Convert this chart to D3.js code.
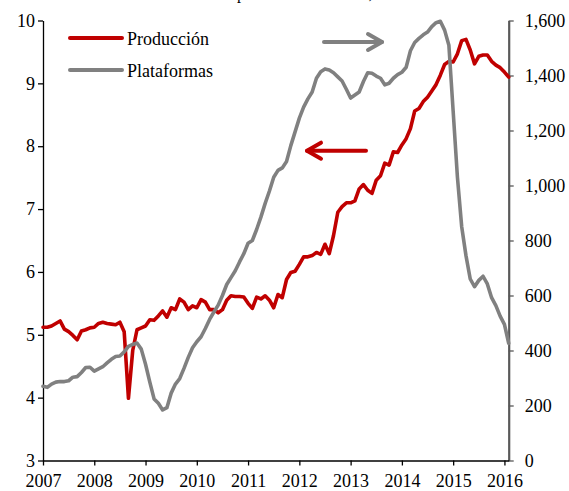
<!DOCTYPE html>
<html>
<head>
<meta charset="utf-8">
<script src="https://cdn.jsdelivr.net/npm/d3@7"></script>
<style>
  html, body { margin: 0; padding: 0; background: #fff; }
  svg { display: block; }
  text { font-family: "Liberation Serif", "Times New Roman", serif; fill: #000; }
</style>
</head>
<body>
<svg id="chart" width="569" height="491"></svg>
<script>
// ---- data (monthly, Jan 2007 .. Feb 2016) ----
const startYear = 2007;
const yearLabels = [2007, 2008, 2009, 2010, 2011, 2012, 2013, 2014, 2015, 2016];
const leftTicks = [3, 4, 5, 6, 7, 8, 9, 10];
const rightTicks = [0, 200, 400, 600, 800, 1000, 1200, 1400, 1600];
const seriesNames = ["Producción", "Plataformas"];

// Producción (millones de barriles diarios) - left axis
const produccion = [
  5.12, 5.12, 5.14, 5.18, 5.22, 5.09, 5.05, 4.99, 4.92, 5.06, 5.08, 5.11,
  5.12, 5.18, 5.20, 5.18, 5.17, 5.16, 5.20, 5.05, 3.99, 4.75, 5.08, 5.11,
  5.14, 5.24, 5.23, 5.30, 5.38, 5.28, 5.43, 5.40, 5.57, 5.52, 5.40, 5.46,
  5.43, 5.56, 5.52, 5.40, 5.40, 5.35, 5.40, 5.55, 5.62, 5.61, 5.61, 5.60,
  5.50, 5.42, 5.60, 5.57, 5.62, 5.55, 5.43, 5.64, 5.59, 5.88, 5.99, 6.01,
  6.12, 6.24, 6.24, 6.26, 6.31, 6.28, 6.44, 6.29, 6.58, 6.95, 7.04, 7.10,
  7.10, 7.13, 7.32, 7.39, 7.30, 7.25, 7.46, 7.53, 7.73, 7.70, 7.91, 7.90,
  8.02, 8.12, 8.28, 8.56, 8.60, 8.71, 8.78, 8.88, 8.98, 9.13, 9.30, 9.35,
  9.34, 9.47, 9.68, 9.70, 9.53, 9.31, 9.43, 9.45, 9.45, 9.35, 9.29, 9.25,
  9.18, 9.10
];

// Plataformas (número) - right axis
const plataformas = [
  270, 266, 278, 285, 287, 287, 290, 303, 305, 320, 338, 339,
  325, 333, 341, 355, 368, 378, 380, 395, 415, 422, 427, 405,
  350, 285, 224, 208, 184, 192, 245, 278, 298, 335, 375, 410,
  432, 450, 480, 513, 540, 565, 600, 640, 665, 690, 722, 752,
  790, 800, 840, 885, 935, 980, 1030, 1055, 1064, 1087, 1145, 1195,
  1245, 1285, 1315, 1340, 1390, 1414, 1424, 1420, 1410, 1395, 1380, 1350,
  1318, 1329, 1340, 1378, 1410, 1408, 1398, 1390, 1366, 1372, 1390, 1403,
  1412, 1430, 1490, 1520, 1535, 1548, 1558, 1578, 1592, 1597, 1565, 1510,
  1270, 1030, 850, 745, 660, 632, 655, 670, 642, 592, 563, 525,
  495, 426
];

// ---- layout ----
const svg = d3.select("#chart");
const L = 43, R = 508.7, T = 20.5, B = 460.5;
const red = "#C00000", gray = "#808080";

const x = d3.scaleLinear().domain([0, produccion.length - 1]).range([L, R]);
const yL = d3.scaleLinear().domain([3, 10]).range([B, T]);
const yR = d3.scaleLinear().domain([0, 1600]).range([B, T]);

// title, cut off at the top edge as in the reference (only descenders visible)
svg.append("text")
  .attr("x", 237).attr("y", -1)
  .style("font-size", "16px")
  .text("producción de crudo, número de torres");

// left axis
const gL = svg.append("g").attr("transform", `translate(${L},0)`)
  .call(d3.axisLeft(yL).tickValues(leftTicks).tickSize(5).tickPadding(3).tickSizeOuter(0)
    .tickFormat(d3.format("d")));
gL.select(".domain").attr("stroke", "#000").attr("stroke-width", 1.3);
gL.selectAll(".tick line").attr("stroke", "#000").attr("stroke-width", 1.3);
gL.selectAll("text").style("font-size", "18px").style("font-family", "Liberation Serif, serif");

// right axis
const gR = svg.append("g").attr("transform", `translate(${R},0)`)
  .call(d3.axisRight(yR).tickValues(rightTicks).tickSize(5).tickPadding(11).tickSizeOuter(0)
    .tickFormat(d3.format(",")));
gR.select(".domain").attr("stroke", "#595959").attr("stroke-width", 2.2);
gR.selectAll(".tick line").attr("stroke", "#595959").attr("stroke-width", 1.3);
gR.selectAll("text").style("font-size", "18px").style("font-family", "Liberation Serif, serif");

// bottom axis
const gB = svg.append("g").attr("transform", `translate(0,${B})`)
  .call(d3.axisBottom(x).tickValues(yearLabels.map(y => (y - startYear) * 12))
    .tickSize(5).tickSizeOuter(0).tickFormat(d => startYear + d / 12));
gB.select(".domain").attr("stroke", "#000").attr("stroke-width", 1.3);
gB.selectAll(".tick line").attr("stroke", "#000").attr("stroke-width", 1.3);
gB.selectAll("text").style("font-size", "18px").style("font-family", "Liberation Serif, serif")
  .attr("y", 26.5).attr("dy", 0);

// lines
const lineP = d3.line().x((d, i) => x(i)).y(d => yL(d));
const lineG = d3.line().x((d, i) => x(i)).y(d => yR(d));

svg.append("path").datum(produccion)
  .attr("fill", "none").attr("stroke", red).attr("stroke-width", 3.6)
  .attr("stroke-linejoin", "round").attr("stroke-linecap", "round")
  .attr("d", lineP);

svg.append("path").datum(plataformas)
  .attr("fill", "none").attr("stroke", gray).attr("stroke-width", 3.6)
  .attr("stroke-linejoin", "round").attr("stroke-linecap", "round")
  .attr("d", lineG);

// legend
const legend = svg.append("g");
[[red, 38, 44.5], [gray, 70, 76.5]].forEach((c, i) => {
  legend.append("line").attr("x1", 70).attr("x2", 122).attr("y1", c[1]).attr("y2", c[1])
    .attr("stroke", c[0]).attr("stroke-width", 4).attr("stroke-linecap", "round");
  legend.append("text").attr("x", 127).attr("y", c[2]).style("font-size", "18px").text(seriesNames[i]);
});

// arrows
function arrow(x1, x2, y, color) {
  const dir = x2 > x1 ? -1 : 1;
  const g = svg.append("g").attr("stroke", color).attr("stroke-width", 4)
    .attr("stroke-linecap", "round").attr("stroke-linejoin", "round").attr("fill", "none");
  g.append("line").attr("x1", x1).attr("x2", x2).attr("y1", y).attr("y2", y);
  g.append("path").attr("d", `M${x2 + dir * 14},${y - 8}L${x2},${y}L${x2 + dir * 14},${y + 8}`);
}
arrow(324, 382, 42, gray);
arrow(366, 307, 150.7, red);
</script>
</body>
</html>
